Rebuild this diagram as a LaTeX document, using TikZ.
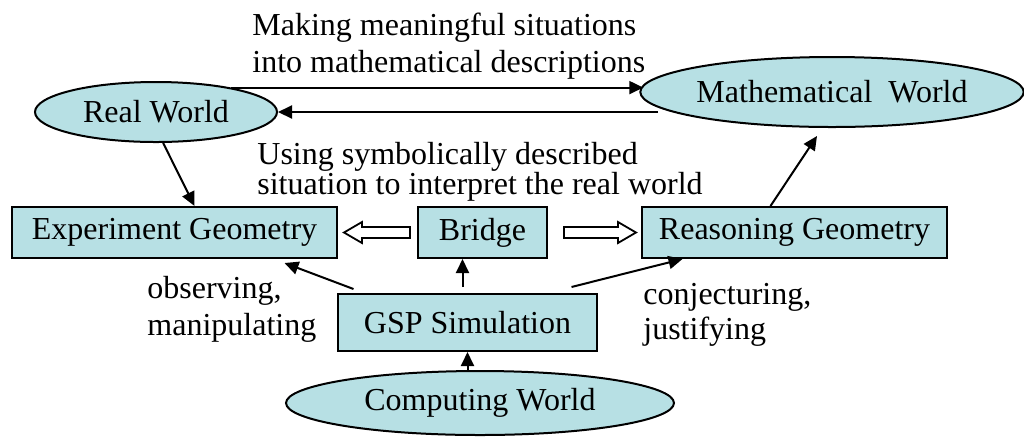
\documentclass[tikz,border=0pt]{standalone}
\usepackage{fontspec}
\setmainfont{Liberation Serif}
\usetikzlibrary{arrows.meta,shapes.geometric,calc}
\definecolor{paleteal}{RGB}{183,224,228}
\begin{document}
\begin{tikzpicture}[
  x=0.5pt, y=-0.5pt,
  font=\fontsize{16}{18.5}\selectfont,
  world/.style={ellipse, draw=black, line width=1pt, fill=paleteal, inner sep=0pt},
  box/.style={rectangle, draw=black, line width=1pt, fill=paleteal, inner sep=0pt},
  arr/.style={line width=1pt, -{Triangle[length=7pt, width=6.5pt]}},
  hollow/.style={line width=0.9pt, draw=black, fill=white, line join=miter},
  lab/.style={anchor=north west, align=left, inner sep=0pt}]

\useasboundingbox (0,0) rectangle (1024,436);

% ============================ the three worlds ============================
\node[world, minimum width=121pt, minimum height=30pt] (real) at (156,112) {Real World};
\node[world, minimum width=190pt, minimum height=35pt] (math) at (832,92) {Mathematical\ \ World};
\node[world, minimum width=194pt, minimum height=32pt] (comp) at (480,403) {Computing World};

% ============================== the boxes ================================
\node[box, minimum width=162.5pt, minimum height=25.5pt] (exp)    at (174.5,232.5) {Experiment Geometry};
\node[box, minimum width=64.5pt,  minimum height=25.5pt] (bridge) at (482.5,232.5) {Bridge};
\node[box, minimum width=152.5pt, minimum height=25.5pt] (reason) at (794.5,232.5) {Reasoning Geometry};
\node[box, minimum width=129.5pt, minimum height=28.5pt] (gsp)    at (467.5,322.5) {GSP Simulation};

% ============================== the labels ===============================
\node[lab, font=\fontsize{16}{18.5}\selectfont] (making)  at (252,13)  {Making meaningful situations\\into mathematical descriptions};
\node[lab, font=\fontsize{16}{15}\selectfont]   (using)   at (257,142) {Using symbolically described\\situation to interpret the real world};
\node[lab, font=\fontsize{16}{18.5}\selectfont] (observe) at (147,276) {observing,\\manipulating};
\node[lab, font=\fontsize{16}{17.5}\selectfont] (conject) at (643,283) {conjecturing,\\justifying};

% ============================== connectors ===============================
\coordinate (mathtail) at (658,112);
\draw[arr] (real.18) -- ($(real.18 -| math.west)+(4,0)$);
\draw[arr] (mathtail) -- (real.east);
\draw[arr] (real.-77) -- ([xshift=10pt]exp.north);
\draw[arr] ([xshift=-12pt]reason.north) -- ([xshift=-7.5pt,yshift=-4pt]math.south);
\draw[arr] ([xshift=-57pt,yshift=2pt]gsp.north) -- ([xshift=55pt,yshift=-2pt]exp.south);
\draw[arr] ([xshift=-2.5pt,yshift=3pt]gsp.north) -- ([xshift=-10pt]bridge.south);
\draw[arr] ([xshift=52pt,yshift=3pt]gsp.north) -- ([xshift=-56pt]reason.south);
\draw[arr] (comp.north -| gsp.south) -- (gsp.south);

% hollow block arrows out of the bridge
\coordinate (ltip)  at ($(exp.east)+(6,0)$);
\coordinate (ltail) at ($(bridge.west)+(-7,0)$);
\coordinate (rtail) at ($(bridge.east)+(16,0)$);
\coordinate (rtip)  at ($(reason.west)+(-5,0)$);
\draw[hollow] (ltip) -- ++(18,-10.5) -- ++(0,5) -- ($(ltail)+(0,-5.5)$) -- ($(ltail)+(0,5.5)$)
  -- ($(ltip)+(18,5.5)$) -- ++(0,5) -- cycle;
\draw[hollow] (rtip) -- ++(-18,-10.5) -- ++(0,5) -- ($(rtail)+(0,-5.5)$) -- ($(rtail)+(0,5.5)$)
  -- ($(rtip)+(-18,5.5)$) -- ++(0,5) -- cycle;

\end{tikzpicture}
\end{document}
